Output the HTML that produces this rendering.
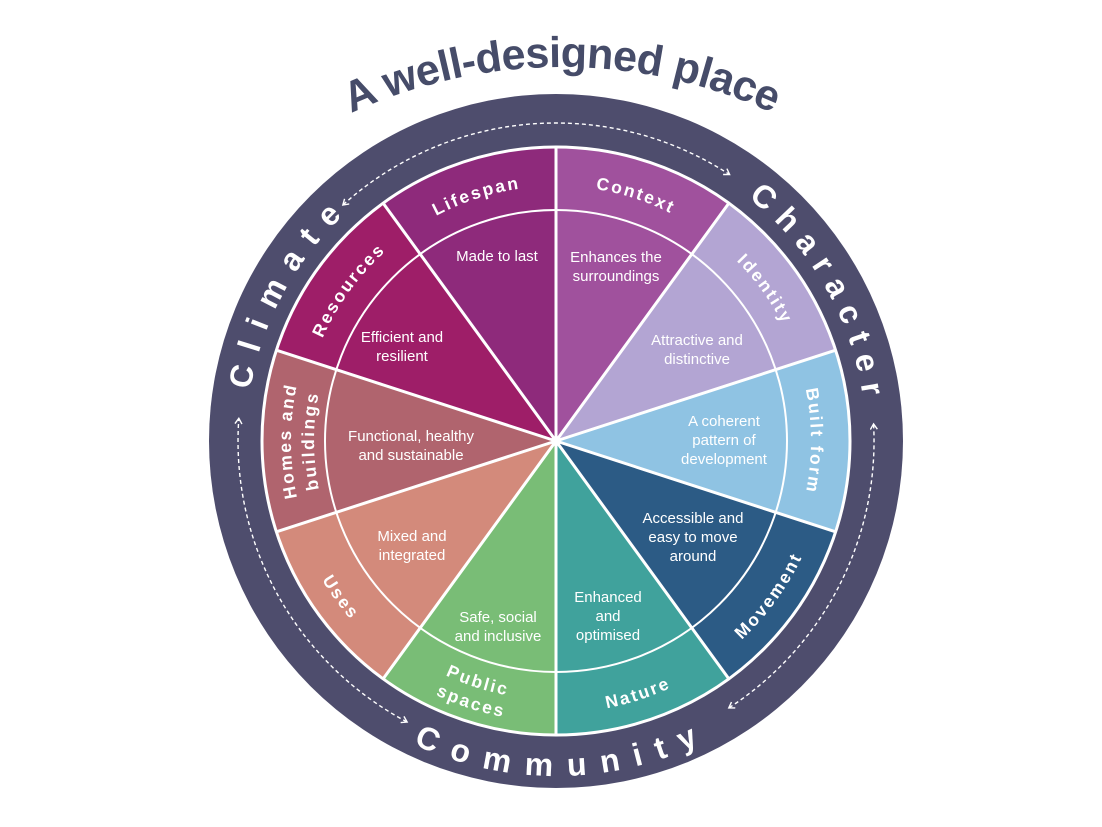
<!DOCTYPE html>
<html><head><meta charset="utf-8"><style>
html,body{margin:0;padding:0;background:#fff;}
svg{display:block;}
text{font-family:"Liberation Sans",sans-serif;}
.in{fill:#fff;font-size:15px;text-anchor:middle;}
.ob{fill:#fff;font-size:17.5px;font-weight:bold;letter-spacing:2.2px;}
.rg{fill:#fff;font-size:32px;font-weight:bold;}
</style></head><body>
<svg width="1102" height="827" viewBox="0 0 1102 827" xmlns="http://www.w3.org/2000/svg">
<defs>
<marker id="ar" markerWidth="9" markerHeight="9" refX="6" refY="4" orient="auto-start-reverse" markerUnits="userSpaceOnUse">
<path d="M1,0.5 L6.5,4 L1,7.5" fill="none" stroke="#fff" stroke-width="1.4"/>
</marker>
<path id="pTitle" d="M309.5 134.7 A505 505 0 0 1 814.5 134.7"/>
<path id="pClim" d="M246.2 451.8 A310 310 0 0 1 391.7 178.1"/>
<path id="pChar" d="M687 160 A310 310 0 0 1 864.8 468"/>
<path id="pComm" d="M363.8 715.4 A335 335 0 0 0 748.2 715.4"/>
<path id="pLife" d="M382.1 254.5 A255 255 0 0 1 587.1 187.9"/>
<path id="pCont" d="M524.9 187.9 A255 255 0 0 1 729.9 254.5"/>
<path id="pIden" d="M679.6 218 A255 255 0 0 1 806.3 392.3"/>
<path id="pBuil" d="M787.1 333.2 A255 255 0 0 1 787.1 548.8"/>
<path id="pReso" d="M305.7 392.3 A255 255 0 0 1 432.4 218"/>
<path id="pHom1" d="M315.8 553 A265 265 0 0 1 315.8 329"/>
<path id="pHom2" d="M336.7 543.3 A242 242 0 0 1 336.7 338.7"/>
<path id="pMove" d="M687.9 678.9 A272 272 0 0 0 823 492.9"/>
<path id="pNatu" d="M522.8 711 A272 272 0 0 0 741.5 639.9"/>
<path id="pUses" d="M289 492.9 A272 272 0 0 0 424.1 678.9"/>
<path id="pPub1" d="M379.4 630.4 A259 259 0 0 0 587.6 698.1"/>
<path id="pPub2" d="M364.4 646.5 A281 281 0 0 0 590.3 719.9"/>
</defs>

<text font-size="43" font-weight="bold" fill="#464c69"><textPath href="#pTitle" startOffset="50%" text-anchor="middle" textLength="435" lengthAdjust="spacing">A well-designed place</textPath></text>

<circle cx="556" cy="441" r="347" fill="#4e4d6d"/>

<path d="M556 441 L383.2 203.2 A294 294 0 0 1 556 147 Z" fill="#8e2a7b"/>
<path d="M556 441 L556 147 A294 294 0 0 1 728.8 203.2 Z" fill="#a0519d"/>
<path d="M556 441 L728.8 203.2 A294 294 0 0 1 835.6 350.2 Z" fill="#b3a5d3"/>
<path d="M556 441 L835.6 350.2 A294 294 0 0 1 835.6 531.8 Z" fill="#8fc3e3"/>
<path d="M556 441 L835.6 531.8 A294 294 0 0 1 728.8 678.8 Z" fill="#2c5b85"/>
<path d="M556 441 L728.8 678.8 A294 294 0 0 1 556 735 Z" fill="#40a29c"/>
<path d="M556 441 L556 735 A294 294 0 0 1 383.2 678.8 Z" fill="#79bd76"/>
<path d="M556 441 L383.2 678.8 A294 294 0 0 1 276.4 531.8 Z" fill="#d38a7b"/>
<path d="M556 441 L276.4 531.8 A294 294 0 0 1 276.4 350.2 Z" fill="#b0646e"/>
<path d="M556 441 L276.4 350.2 A294 294 0 0 1 383.2 203.2 Z" fill="#9e1e68"/>

<g stroke="#fff" stroke-width="3" fill="none">
<circle cx="556" cy="441" r="231" stroke-width="2"/>
<circle cx="556" cy="441" r="294"/>
<path d="M556 441 L556 147 M556 441 L728.8 203.2 M556 441 L835.6 350.2 M556 441 L835.6 531.8 M556 441 L728.8 678.8 M556 441 L556 735 M556 441 L383.2 678.8 M556 441 L276.4 531.8 M556 441 L276.4 350.2 M556 441 L383.2 203.2"/>
</g>

<g stroke="#fff" stroke-width="1.4" fill="none" stroke-dasharray="4 3" marker-start="url(#ar)" marker-end="url(#ar)">
<path d="M343.2 204.7 A318 318 0 0 1 729.2 174.3"/>
<path d="M873.6 424.4 A318 318 0 0 1 729.2 707.7"/>
<path d="M406.7 721.8 A318 318 0 0 1 238.8 418.8"/>
</g>

<text class="rg"><textPath href="#pClim" startOffset="50%" text-anchor="middle" textLength="200" lengthAdjust="spacing">Climate</textPath></text>
<text class="rg"><textPath href="#pChar" startOffset="50%" text-anchor="middle" textLength="235" lengthAdjust="spacing">Character</textPath></text>
<text class="rg"><textPath href="#pComm" startOffset="50%" text-anchor="middle" textLength="295" lengthAdjust="spacing">Community</textPath></text>

<text class="ob"><textPath href="#pLife" startOffset="50%" text-anchor="middle">Lifespan</textPath></text>
<text class="ob"><textPath href="#pCont" startOffset="50%" text-anchor="middle">Context</textPath></text>
<text class="ob"><textPath href="#pIden" startOffset="50%" text-anchor="middle">Identity</textPath></text>
<text class="ob"><textPath href="#pBuil" startOffset="50%" text-anchor="middle">Built form</textPath></text>
<text class="ob"><textPath href="#pReso" startOffset="50%" text-anchor="middle">Resources</textPath></text>
<text class="ob"><textPath href="#pHom1" startOffset="50%" text-anchor="middle">Homes and</textPath></text>
<text class="ob"><textPath href="#pHom2" startOffset="50%" text-anchor="middle">buildings</textPath></text>
<text class="ob"><textPath href="#pMove" startOffset="50%" text-anchor="middle">Movement</textPath></text>
<text class="ob"><textPath href="#pNatu" startOffset="50%" text-anchor="middle">Nature</textPath></text>
<text class="ob"><textPath href="#pUses" startOffset="50%" text-anchor="middle">Uses</textPath></text>
<text class="ob"><textPath href="#pPub1" startOffset="50%" text-anchor="middle">Public</textPath></text>
<text class="ob"><textPath href="#pPub2" startOffset="50%" text-anchor="middle">spaces</textPath></text>

<text class="in" x="497" y="261">Made to last</text>
<text class="in" x="616" y="262">Enhances the</text>
<text class="in" x="616" y="281">surroundings</text>
<text class="in" x="697" y="345">Attractive and</text>
<text class="in" x="697" y="364">distinctive</text>
<text class="in" x="724" y="426">A coherent</text>
<text class="in" x="724" y="445">pattern of</text>
<text class="in" x="724" y="464">development</text>
<text class="in" x="693" y="523">Accessible and</text>
<text class="in" x="693" y="542">easy to move</text>
<text class="in" x="693" y="561">around</text>
<text class="in" x="608" y="602">Enhanced</text>
<text class="in" x="608" y="621">and</text>
<text class="in" x="608" y="640">optimised</text>
<text class="in" x="498" y="622">Safe, social</text>
<text class="in" x="498" y="641">and inclusive</text>
<text class="in" x="412" y="541">Mixed and</text>
<text class="in" x="412" y="560">integrated</text>
<text class="in" x="411" y="441">Functional, healthy</text>
<text class="in" x="411" y="460">and sustainable</text>
<text class="in" x="402" y="342">Efficient and</text>
<text class="in" x="402" y="361">resilient</text>
</svg>
</body></html>
